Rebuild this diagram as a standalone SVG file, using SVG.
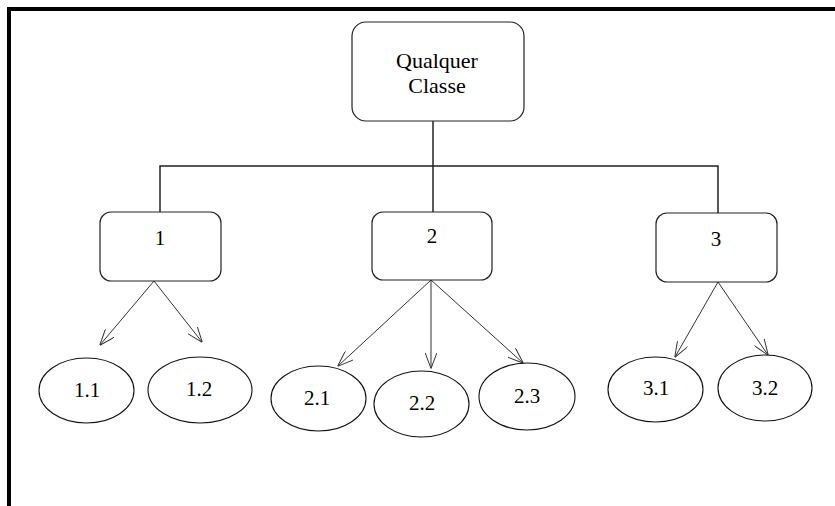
<svg xmlns="http://www.w3.org/2000/svg" width="835" height="506" viewBox="0 0 835 506">
<style>
.box{fill:#fff;stroke:#222;stroke-width:1.2}
.ell{fill:#fff;stroke:#111;stroke-width:1.1}
.t{font-family:"Liberation Serif","Times New Roman",serif;font-size:21px;fill:#000;text-anchor:middle}
.tb{font-size:22px}
.elbow{fill:none;stroke:#222;stroke-width:1.5}
.arr{fill:none;stroke:#333;stroke-width:1;marker-end:url(#open)}
</style>
<defs>
<marker id="open" viewBox="0 0 16 12" refX="15.5" refY="6" markerWidth="16" markerHeight="12" markerUnits="userSpaceOnUse" orient="auto">
<path d="M0,0 L16,6 L0,12" fill="none" stroke="#333" stroke-width="1"/>
</marker>
</defs>
<rect x="0" y="0" width="835" height="506" fill="#fff"/>
<g id="frame">
<rect x="7" y="7" width="828" height="4" fill="#000"/>
<rect x="7" y="7" width="4" height="499" fill="#000"/>
</g>
<g id="connectors">
<path class="elbow" d="M433,121 V212"/>
<path class="elbow" d="M160,212 V166 H718 V213"/>
<line class="arr" x1="154" y1="281" x2="100" y2="345"/>
<line class="arr" x1="154" y1="281" x2="202" y2="342"/>
<line class="arr" x1="431" y1="280" x2="338" y2="366"/>
<line class="arr" x1="431" y1="280" x2="431" y2="368"/>
<line class="arr" x1="431" y1="280" x2="523" y2="363"/>
<line class="arr" x1="718" y1="282" x2="675" y2="357"/>
<line class="arr" x1="718" y1="282" x2="768" y2="355"/>
</g>
<g id="root">
<rect class="box" x="352" y="22" width="172" height="99" rx="14" ry="14"/>
<text class="t tb" x="437" y="68">Qualquer</text>
<text class="t tb" x="437" y="93">Classe</text>
</g>
<g id="n1">
<rect class="box" x="100" y="212" width="121" height="69" rx="11" ry="11"/>
<text class="t" x="160" y="245">1</text>
</g>
<g id="n2">
<rect class="box" x="372" y="212" width="120" height="68" rx="11" ry="11"/>
<text class="t" x="432" y="243">2</text>
</g>
<g id="n3">
<rect class="box" x="656" y="213" width="121" height="69" rx="11" ry="11"/>
<text class="t" x="716" y="246">3</text>
</g>
<g id="n1_1">
<ellipse class="ell" cx="86.5" cy="390.5" rx="47.5" ry="32.5"/>
<text class="t" x="87" y="397">1.1</text>
</g>
<g id="n1_2">
<ellipse class="ell" cx="200" cy="390" rx="52" ry="33"/>
<text class="t" x="199" y="396">1.2</text>
</g>
<g id="n2_1">
<ellipse class="ell" cx="318.5" cy="398.5" rx="47.5" ry="32.5"/>
<text class="t" x="317" y="405">2.1</text>
</g>
<g id="n2_2">
<ellipse class="ell" cx="421.5" cy="404" rx="47.5" ry="33"/>
<text class="t" x="422" y="410">2.2</text>
</g>
<g id="n2_3">
<ellipse class="ell" cx="527" cy="396.5" rx="48" ry="33.5"/>
<text class="t" x="527" y="403">2.3</text>
</g>
<g id="n3_1">
<ellipse class="ell" cx="655.5" cy="389.5" rx="47.5" ry="32.5"/>
<text class="t" x="656" y="395">3.1</text>
</g>
<g id="n3_2">
<ellipse class="ell" cx="765" cy="388" rx="47" ry="33"/>
<text class="t" x="765" y="395">3.2</text>
</g>
</svg>
